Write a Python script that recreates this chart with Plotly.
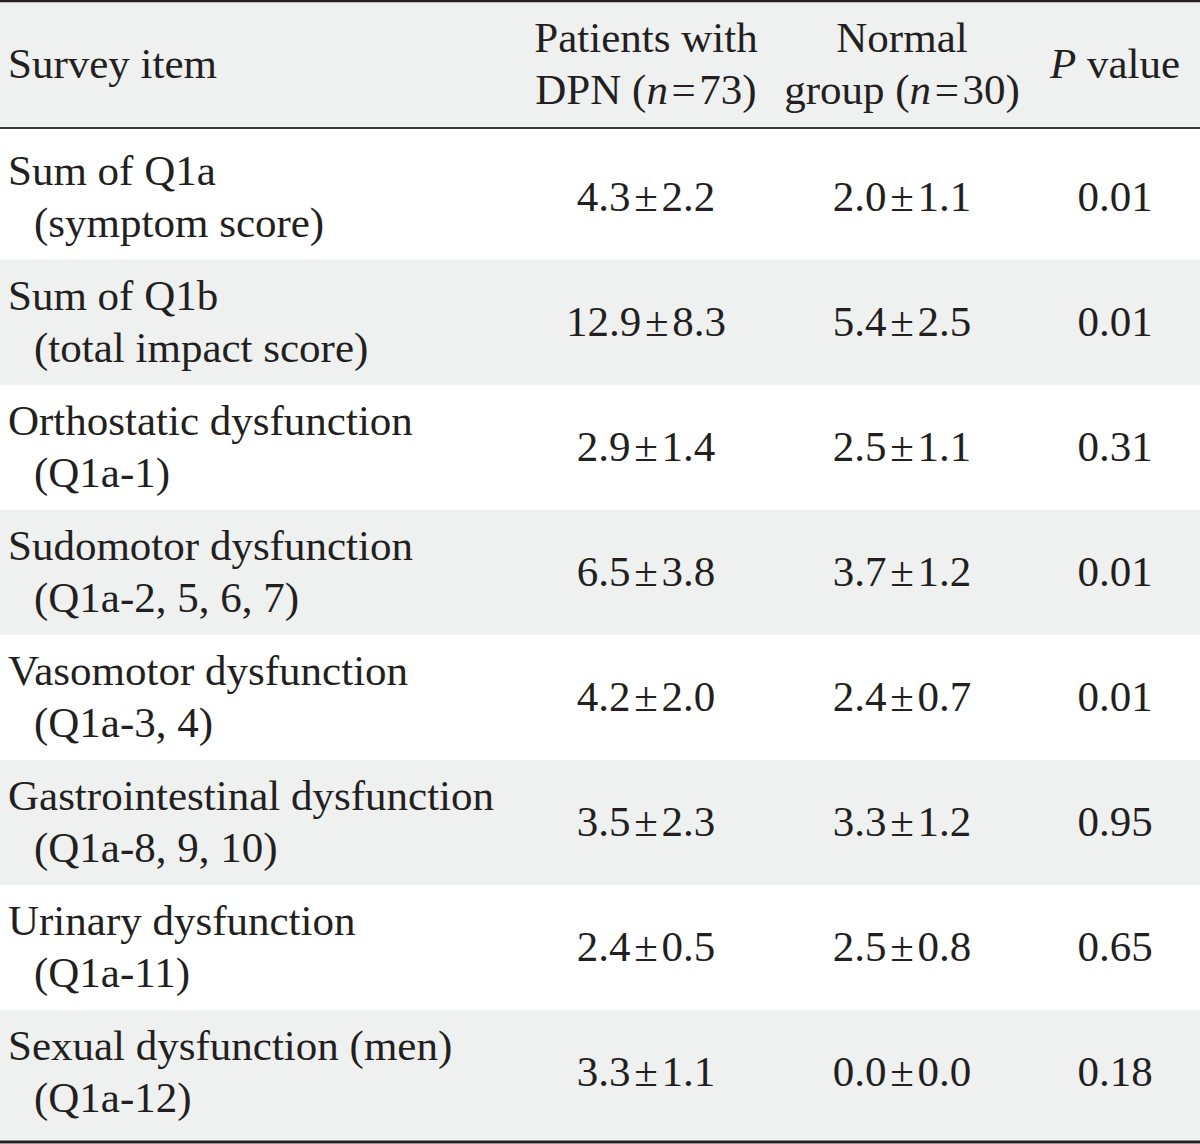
import plotly.graph_objects as go

# ---- data ----
item_names = [
    "Sum of Q1a",
    "Sum of Q1b",
    "Orthostatic dysfunction",
    "Sudomotor dysfunction",
    "Vasomotor dysfunction",
    "Gastrointestinal dysfunction",
    "Urinary dysfunction",
    "Sexual dysfunction (men)",
]
item_details = [
    "(symptom score)",
    "(total impact score)",
    "(Q1a-1)",
    "(Q1a-2, 5, 6, 7)",
    "(Q1a-3, 4)",
    "(Q1a-8, 9, 10)",
    "(Q1a-11)",
    "(Q1a-12)",
]
dpn_mean = [4.3, 12.9, 2.9, 6.5, 4.2, 3.5, 2.4, 3.3]
dpn_sd = [2.2, 8.3, 1.4, 3.8, 2.0, 2.3, 0.5, 1.1]
normal_mean = [2.0, 5.4, 2.5, 3.7, 2.4, 3.3, 2.5, 0.0]
normal_sd = [1.1, 2.5, 1.1, 1.2, 0.7, 1.2, 0.8, 0.0]
p_values = [0.01, 0.01, 0.31, 0.01, 0.01, 0.95, 0.65, 0.18]

header_item = "Survey item"
header_dpn = ["Patients with", "DPN (<i>n</i>\u200a=\u200a73)"]
header_normal = ["Normal", "group (<i>n</i>\u200a=\u200a30)"]
header_p = "<i>P</i> value"

# ---- layout constants (pixels) ----
W, H = 1200, 1144
TXT = "#231f20"
GRAY = "#eff0f0"
FONT = dict(family="Liberation Serif, Times New Roman, serif", size=43, color=TXT)

X_LABEL = 8
X_DETAIL = 34
X_DPN = 646
X_NORMAL = 902
X_P = 1115

HEADER_TOP = 1
HEADER_BOTTOM = 128
TEXT_SHIFT = 3
ROW0_CENTER = 197
ROW_H = 125.1
TABLE_BOTTOM = 1141
LINE_HALF = 26

n = len(item_names)
centers = [ROW0_CENTER + i * ROW_H for i in range(n)]
tc = [c + TEXT_SHIFT for c in centers]
PM = "\u200a±\u200a"
dpn_txt = [f"{m:.1f}{PM}{s:.1f}" for m, s in zip(dpn_mean, dpn_sd)]
normal_txt = [f"{m:.1f}{PM}{s:.1f}" for m, s in zip(normal_mean, normal_sd)]
p_txt = [f"{p:.2f}" for p in p_values]

fig = go.Figure()

def text_trace(xs, ys, texts, pos):
    fig.add_trace(go.Scatter(
        x=xs, y=ys, text=texts, mode="text", textposition=pos,
        textfont=FONT, hoverinfo="skip", showlegend=False, cliponaxis=False,
    ))

# header
hc = (HEADER_TOP + HEADER_BOTTOM) / 2 + TEXT_SHIFT
text_trace([X_LABEL], [hc], [header_item], "middle right")
text_trace([X_DPN, X_DPN], [hc - LINE_HALF, hc + LINE_HALF], header_dpn, "middle center")
text_trace([X_NORMAL, X_NORMAL], [hc - LINE_HALF, hc + LINE_HALF], header_normal, "middle center")
text_trace([X_P], [hc], [header_p], "middle center")

# body
text_trace([X_LABEL] * n, [c - LINE_HALF for c in tc], item_names, "middle right")
text_trace([X_DETAIL] * n, [c + LINE_HALF for c in tc], item_details, "middle right")
text_trace([X_DPN] * n, tc, dpn_txt, "middle center")
text_trace([X_NORMAL] * n, tc, normal_txt, "middle center")
text_trace([X_P] * n, tc, p_txt, "middle center")

shapes = []
# header band
shapes.append(dict(type="rect", xref="paper", yref="y", x0=0, x1=1,
                   y0=HEADER_TOP, y1=HEADER_BOTTOM, fillcolor=GRAY,
                   line_width=0, layer="below"))
# alternating row bands (even-numbered rows grey)
for i, c in enumerate(centers):
    if i % 2 == 1:
        y0 = c - ROW_H / 2
        y1 = TABLE_BOTTOM if i == n - 1 else c + ROW_H / 2
        shapes.append(dict(type="rect", xref="paper", yref="y", x0=0, x1=1,
                           y0=y0, y1=y1, fillcolor=GRAY, line_width=0, layer="below"))
# rules
shapes.append(dict(type="line", xref="paper", yref="y", x0=0, x1=1,
                   y0=HEADER_TOP, y1=HEADER_TOP, line=dict(color=TXT, width=2.5)))
shapes.append(dict(type="line", xref="paper", yref="y", x0=0, x1=1,
                   y0=HEADER_BOTTOM, y1=HEADER_BOTTOM, line=dict(color="#3a3a3a", width=2)))
shapes.append(dict(type="line", xref="paper", yref="y", x0=0, x1=1,
                   y0=TABLE_BOTTOM + 1, y1=TABLE_BOTTOM + 1, line=dict(color=TXT, width=3)))

fig.update_layout(
    width=W, height=H, autosize=False,
    margin=dict(l=0, r=0, t=0, b=0, pad=0),
    paper_bgcolor="white", plot_bgcolor="white",
    xaxis=dict(range=[0, W], visible=False, fixedrange=True),
    yaxis=dict(range=[H, 0], visible=False, fixedrange=True),
    shapes=shapes,
    showlegend=False,
)

fig.write_html(
    "out.html",
    config={"displayModeBar": False, "staticPlot": True},
    post_script="document.body.style.margin='0';document.body.style.padding='0';",
)
